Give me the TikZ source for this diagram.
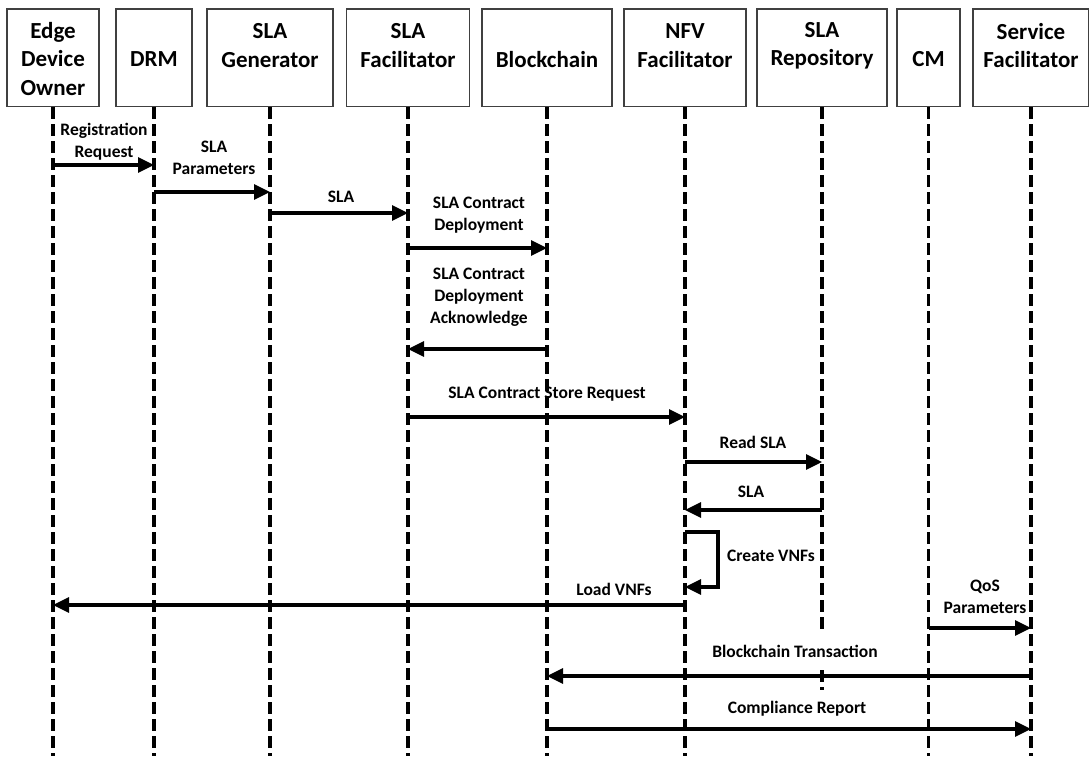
\documentclass[tikz,border=0pt]{standalone}
\usepackage{fontspec}
\setmainfont{Carlito}
\usetikzlibrary{arrows.meta}

\tikzset{
  actor/.style={draw=black!75, line width=1.2pt, minimum height=97.5pt, inner sep=0pt},
  head/.style={font=\fontsize{23}{28.5}\selectfont\bfseries, align=center, inner sep=0pt},
  lifeline/.style={line width=3.2pt, dash pattern=on 12pt off 5pt},
  msg/.style={line width=3.2pt, -{Triangle[length=16pt,width=15pt]}},
  msglabel/.style={font=\fontsize{17.5}{22}\selectfont\bfseries, align=center, inner sep=0pt},
}

\begin{document}
\begin{tikzpicture}[x=1pt,y=-1pt]
  \useasboundingbox (0,0) rectangle (1089,756);

  % participants
  \node[actor, minimum width=92pt]  (edge)   at (53,57.75)   {};
  \node[actor, minimum width=76pt]  (drm)    at (154,57.75)  {};
  \node[actor, minimum width=126pt] (slagen) at (270,57.75)  {};
  \node[actor, minimum width=123pt] (slafac) at (408,57.75)  {};
  \node[actor, minimum width=130pt] (chain)  at (547,57.75)  {};
  \node[actor, minimum width=122pt] (nfv)    at (685,57.75)  {};
  \node[actor, minimum width=130pt] (repo)   at (822,57.75)  {};
  \node[actor, minimum width=63pt]  (cm)     at (928.5,57.75) {};
  \node[actor, minimum width=116pt] (serv)   at (1031,57.75) {};

  \node[head] (hedge)   at ([yshift=-1pt]edge.center) {Edge\\Device\\Owner};
  \node[head] (hdrm)    at ([yshift=-1.5pt]drm.center) {DRM};
  \node[head] (hslagen) at ([yshift=12pt]slagen.center) {SLA\\Generator};
  \node[head] (hslafac) at ([yshift=12pt]slafac.center) {SLA\\Facilitator};
  \node[head] (hchain)  at ([yshift=-1.5pt]chain.center) {Blockchain};
  \node[head] (hnfv)    at ([yshift=12pt]nfv.center) {NFV\\Facilitator};
  \node[head] (hrepo)   at ([yshift=12pt]repo.center) {SLA\\Repository};
  \node[head] (hcm)     at ([yshift=-1.5pt]cm.center) {CM};
  \node[head] (hserv)   at ([yshift=12pt]serv.center) {Service\\Facilitator};

  % lifelines
  \foreach \p in {edge,drm,slagen,slafac,chain,nfv,cm,serv}
    \draw[lifeline] (\p.south) -- (\p.south |- 0,756);
  \draw[lifeline] (repo.south) -- (repo.south |- 0,633);
  \draw[lifeline] (repo |- 0,670) -- (repo |- 0,690);

  % messages
  \draw[msg] (edge |- 0,165) -- (drm |- 0,165);
  \node[msglabel] (lreg) at (104,142) {Registration\\Request};

  \draw[msg] (drm |- 0,192) -- (slagen |- 0,192);
  \node[msglabel] (lpar) at (214,158) {SLA\\Parameters};

  \draw[msg] (slagen |- 0,213) -- (slafac |- 0,213);
  \node[msglabel] (lsla) at (341,197) {SLA};

  \draw[msg] (slafac |- 0,248) -- (chain |- 0,248);
  \node[msglabel] (ldep) at (479,215.5) {SLA Contract\\Deployment};

  \draw[msg] (chain |- 0,349) -- (slafac |- 0,349);
  \node[msglabel] (lack) at (479,297) {SLA Contract\\Deployment\\Acknowledge};

  \draw[msg] (slafac |- 0,417) -- (nfv |- 0,417);
  \node[msglabel] (lstore) at (547,394) {SLA Contract Store Request};

  \draw[msg] (nfv |- 0,462) -- (repo |- 0,462);
  \node[msglabel] (lread) at (753,442) {Read SLA};

  \draw[msg] (repo |- 0,510) -- (nfv |- 0,510);
  \node[msglabel] (lsla2) at (751,492) {SLA};

  \draw[msg] (nfv |- 0,532) -- (718,532) -- (718,587) -- (nfv |- 0,587);
  \node[msglabel] (lcreate) at (771,556) {Create VNFs};

  \draw[msg] (nfv |- 0,605) -- (edge |- 0,605);
  \node[msglabel] (lload) at (614,589) {Load VNFs};

  \draw[msg] (cm |- 0,628) -- (serv |- 0,628);
  \node[msglabel] (lqos) at (985,597) {QoS\\Parameters};

  \draw[msg] (serv |- 0,676) -- (chain |- 0,676);
  \node[msglabel] (ltx) at (795,651) {Blockchain Transaction};

  \draw[msg] (chain |- 0,729) -- (serv |- 0,729);
  \node[msglabel] (lrep) at (797,709) {Compliance Report};
\end{tikzpicture}
\end{document}
